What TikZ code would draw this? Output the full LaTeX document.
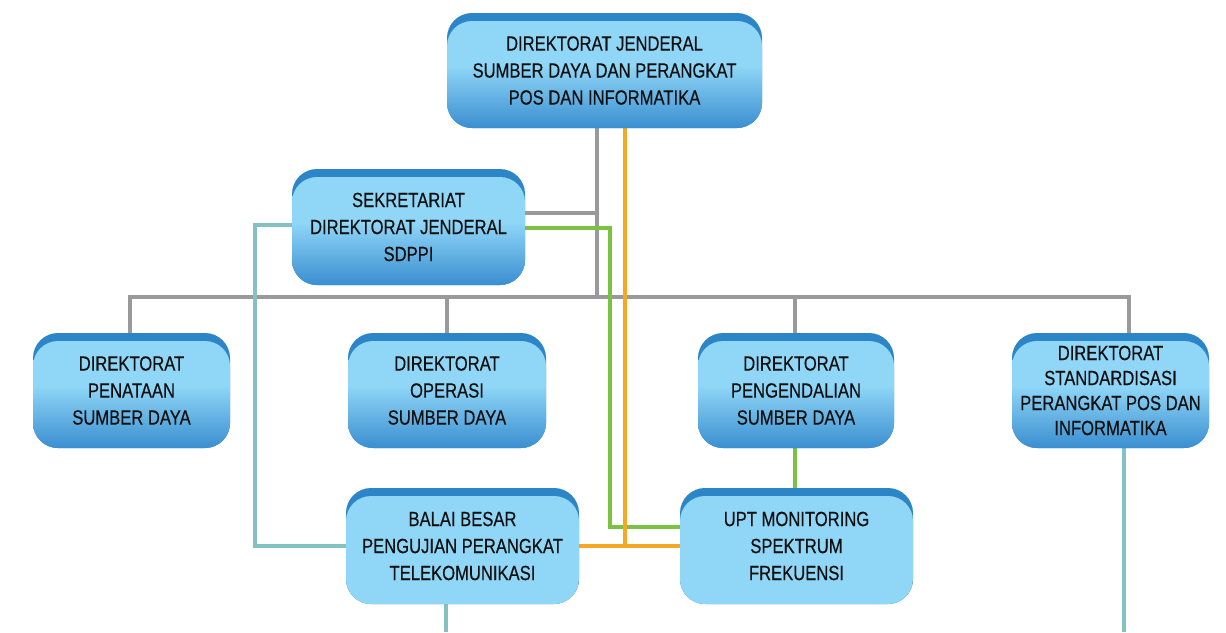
\documentclass[tikz,border=0pt]{standalone}
\usepackage{fontspec}
\setmainfont{Liberation Sans}[FakeStretch=0.81, FakeBold=0.4]
\usetikzlibrary{calc,backgrounds}
\definecolor{bdark}{HTML}{2C85C7}
\definecolor{blight}{HTML}{8FD6F7}
\definecolor{bgrad}{HTML}{3A8ED0}
\definecolor{lgray}{HTML}{9A9A9D}
\definecolor{lorange}{HTML}{F7A823}
\definecolor{lgreen}{HTML}{7CC242}
\definecolor{lteal}{HTML}{84C1C1}
\definecolor{txt}{HTML}{101010}
\pgfdeclareverticalshading{boxshade}{100bp}{color(0bp)=(bgrad); color(25bp)=(bgrad); color(52bp)=(blight); color(100bp)=(blight)}
\tikzset{
  basebox/.style={inner sep=0pt, rounded corners=25pt, fill=bdark, align=center,
    font=\fontsize{20.5}{27}\selectfont, text=txt},
  gradbox/.style={basebox, path picture={\shade[shading=boxshade, rounded corners=25pt]
    (path picture bounding box.south west) rectangle ($(path picture bounding box.north east)+(0,8)$);}},
  flatbox/.style={basebox, path picture={\fill[blight, rounded corners=25pt]
    (path picture bounding box.south west) rectangle ($(path picture bounding box.north east)+(0,8)$);}},
  conn/.style={line width=4pt},
}
\begin{document}
\begin{tikzpicture}[x=1pt, y=-1pt]
\useasboundingbox (0,0) rectangle (1226,632);
% coordinates for connector routes
\coordinate (gx) at (597,213);
\coordinate (bL) at (130,297);
\coordinate (bR) at (1129,297);
\coordinate (ox) at (625,546);
\coordinate (gr1) at (610,228);
\coordinate (gr2) at (610,527);
\coordinate (gv) at (795,470);
\coordinate (t1) at (255,225);
\coordinate (t2) at (255,546);
\coordinate (tb) at (446,632);
\coordinate (ts) at (1124,632);

\node[gradbox, minimum width=315pt, minimum height=115pt] (dj) at (604.5,70.5) {DIREKTORAT JENDERAL\\SUMBER DAYA DAN PERANGKAT\\POS DAN INFORMATIKA};
\node[gradbox, minimum width=233pt, minimum height=116pt] (sek) at (408.5,227) {SEKRETARIAT\\DIREKTORAT JENDERAL\\SDPPI};
\node[gradbox, minimum width=197pt, minimum height=115pt] (pen) at (131.5,390.5) {DIREKTORAT\\PENATAAN\\SUMBER DAYA};
\node[gradbox, minimum width=198pt, minimum height=115pt] (ope) at (447,390.5) {DIREKTORAT\\OPERASI\\SUMBER DAYA};
\node[gradbox, minimum width=196pt, minimum height=115pt] (peg) at (796,390.5) {DIREKTORAT\\PENGENDALIAN\\SUMBER DAYA};
\node[gradbox, minimum width=197pt, minimum height=115pt, font=\fontsize{20.5}{25}\selectfont] (std) at (1110.5,390.5) {DIREKTORAT\\STANDARDISASI\\PERANGKAT POS DAN\\INFORMATIKA};
\node[flatbox, minimum width=233pt, minimum height=116pt] (bal) at (462.5,546) {BALAI BESAR\\PENGUJIAN PERANGKAT\\TELEKOMUNIKASI};
\node[flatbox, minimum width=233pt, minimum height=116pt] (upt) at (796.5,546) {UPT MONITORING\\SPEKTRUM\\FREKUENSI};

\begin{pgfonlayer}{background}
% gray
\draw[conn, lgray] (gx -| sek.east) -- (gx);
\draw[conn, lgray] (dj.south -| gx) -- (gx |- bL);
\draw[conn, lgray] (pen.north -| bL) -- (bL) -- (bR) -- (std.north -| bR);
\draw[conn, lgray] (ope.north) -- (ope.north |- bL);
\draw[conn, lgray] (peg.north -| gv) -- (gv |- bL);
% teal
\draw[conn, lteal] (sek.west |- t1) -- (t1) -- (t2) -- (bal.west |- t2);
\draw[conn, lteal] (bal.south -| tb) -- (tb);
\draw[conn, lteal] (std.south -| ts) -- (ts);
% green
\draw[conn, lgreen] (sek.east |- gr1) -- (gr1) -- (gr2) -- (upt.west |- gr2);
\draw[conn, lgreen] (peg.south -| gv) -- (upt.north -| gv);
% orange
\draw[conn, lorange] (dj.south -| ox) -- (ox);
\draw[conn, lorange] (bal.east |- ox) -- (upt.west |- ox);
\end{pgfonlayer}
\end{tikzpicture}
\end{document}
